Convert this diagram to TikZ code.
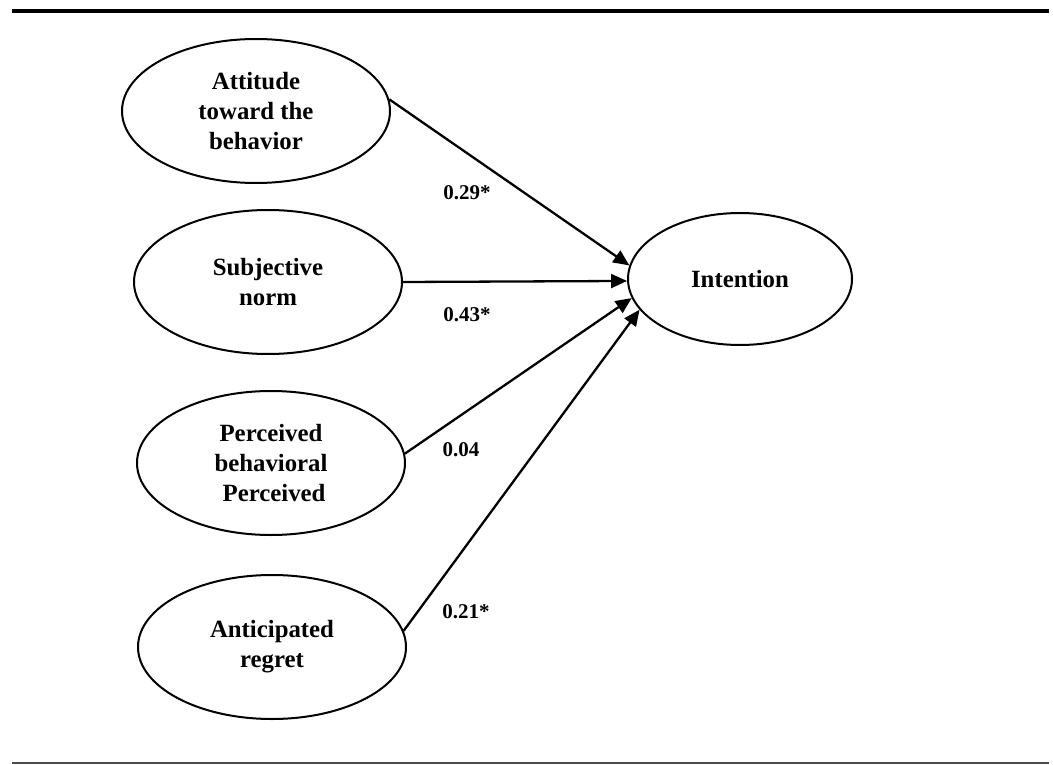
\documentclass[tikz,border=0pt]{standalone}
\usepackage{fontspec}
\setmainfont{Liberation Serif}
\usetikzlibrary{shapes.geometric,arrows.meta}
\tikzset{
  construct/.style={ellipse, draw, line width=2pt, minimum width=268pt, minimum height=144pt, inner sep=0pt, align=center, font=\fontsize{24.8pt}{30pt}\selectfont\bfseries},
  goal/.style={ellipse, draw, line width=2pt, minimum width=224pt, minimum height=132pt, inner sep=0pt, align=center, font=\fontsize{24.8pt}{30pt}\selectfont\bfseries},
  path/.style={line width=2.3pt, -{Triangle[length=16pt,width=14pt]}},
  coef/.style={font=\fontsize{21pt}{25pt}\selectfont\bfseries, inner sep=0pt},
  rule/.style={line cap=butt}
}
\begin{document}
\begin{tikzpicture}[x=1pt,y=-1pt]
\useasboundingbox (0,0) rectangle (1053,765);
\coordinate (tl) at (12,11);
\coordinate (tr) at (1049,11);
\coordinate (bl) at (12,763);
\coordinate (br) at (1049,763);
\draw[rule, line width=4.5pt] (tl) -- (tr);
\draw[rule, line width=1.5pt, black!70] (bl) -- (br);

\node[construct] (att) at (256,111) {Attitude\\toward the\\behavior};
\node[construct] (sub) at (268,282) {Subjective\\norm};
\node[construct] (pbc) at (271,463) {Perceived\\behavioral\\\ Perceived};
\node[construct] (reg) at (272,647) {Anticipated\\regret};
\node[goal] (int) at (740,279) {Intention};

\draw[path] (att.5) -- (int.173);
\draw[path] (sub.0) -- (int.181);
\draw[path] (pbc.4) -- (int.190);
\draw[path] (reg.7) -- (int.197);

\node[coef] (c1) at (467,193) {0.29*};
\node[coef] (c2) at (467,315) {0.43*};
\node[coef] (c3) at (461,450) {0.04};
\node[coef] (c4) at (466,612) {0.21*};
\end{tikzpicture}
\end{document}
